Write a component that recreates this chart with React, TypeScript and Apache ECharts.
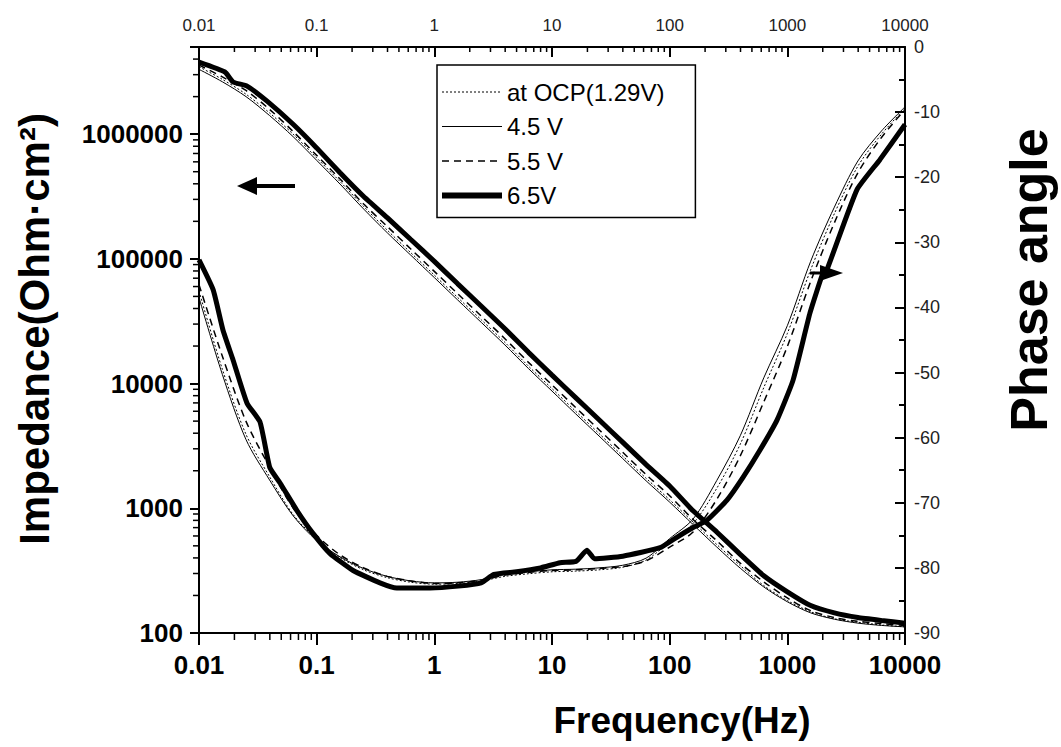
import React, { useEffect, useRef } from 'react';
import * as echarts from 'echarts';

const FONT = '"Liberation Sans", Arial, Helvetica, sans-serif';

const seriesNames = ['at OCP(1.29V)', '4.5 V', '5.5 V', '6.5V'];
const xTickLabels = ['0.01', '0.1', '1', '10', '100', '1000', '10000'];
const yTickLabels = ['100', '1000', '10000', '100000', '1000000'];

// Frequency grid (Hz) shared by the thin curves
const freqGrid = [0.01, 0.0158, 0.0251, 0.0398, 0.0631, 0.1, 0.158, 0.251, 0.398, 0.631, 1, 1.58, 2.51, 3.98, 6.31, 10, 15.8, 25.1, 39.8, 63.1, 100, 158, 251, 398, 631, 1000, 1580, 2510, 3980, 6310, 10000];

// Impedance |Z| (Ohm·cm2)
const zOCP = [3.47e6, 2.75e6, 2.09e6, 1.48e6, 1.0e6, 6.46e5, 4.17e5, 2.63e5, 1.7e5, 1.12e5, 74100, 49000, 32400, 21400, 13800, 9120, 6030, 3980, 2630, 1740, 1170, 776, 513, 347, 240, 182, 148, 130, 122, 116, 112];
const z45 = [3.31e6, 2.63e6, 2.0e6, 1.41e6, 9.55e5, 6.17e5, 3.98e5, 2.51e5, 1.62e5, 1.07e5, 70800, 46800, 30900, 20400, 13200, 8710, 5750, 3800, 2510, 1660, 1120, 741, 490, 331, 234, 178, 145, 129, 120, 115, 112];
const z55 = [3.58e6, 2.88e6, 2.24e6, 1.58e6, 1.05e6, 6.76e5, 4.37e5, 2.75e5, 1.82e5, 1.2e5, 79400, 52500, 34700, 22900, 14800, 9770, 6460, 4270, 2820, 1860, 1260, 813, 550, 363, 257, 191, 151, 133, 124, 119, 115];
const freqZ65 = [0.01, 0.0166, 0.0195, 0.0256, 0.0379, 0.0631, 0.1, 0.158, 0.251, 0.398, 0.631, 1, 1.58, 2.51, 3.98, 6.31, 10, 15.8, 25.1, 39.8, 63.1, 100, 158, 251, 398, 631, 1000, 1580, 2510, 3980, 6310, 10000];
const z65 = [3.78e6, 3.15e6, 2.62e6, 2.43e6, 1.84e6, 1.2e6, 7.76e5, 4.9e5, 3.16e5, 2.14e5, 1.43e5, 95500, 63100, 41700, 27500, 17800, 11700, 7760, 5130, 3390, 2240, 1510, 955, 646, 427, 288, 214, 166, 145, 133, 126, 120];

// Phase angle (degrees)
const phOCP = [-37.5, -49.5, -59.5, -66.0, -71.8, -75.6, -78.4, -80.3, -81.5, -82.2, -82.5, -82.4, -82.0, -81.3, -80.9, -80.6, -80.5, -80.3, -79.9, -78.8, -76.0, -73.2, -67.8, -61.0, -52.3, -44.0, -34.2, -25.6, -18.3, -13.4, -9.4];
const ph45 = [-38.5, -50.3, -60.3, -66.5, -72.0, -75.8, -78.3, -80.1, -81.3, -82.0, -82.3, -82.2, -81.8, -81.0, -80.6, -80.3, -80.2, -80.0, -79.6, -78.5, -75.5, -72.5, -66.6, -59.7, -50.8, -42.8, -32.9, -24.6, -17.5, -12.9, -9.2];
const ph55 = [-36.5, -47.5, -57.5, -64.5, -70.8, -75.0, -78.0, -80.0, -81.3, -82.0, -82.4, -82.3, -81.9, -81.1, -80.7, -80.4, -80.3, -80.1, -79.8, -78.9, -76.8, -74.5, -69.5, -62.8, -54.5, -46.0, -36.0, -27.0, -19.3, -13.9, -9.6];
const freqPh65 = [0.01, 0.0132, 0.016, 0.0195, 0.0256, 0.033, 0.04, 0.049, 0.068, 0.093, 0.13, 0.204, 0.345, 0.48, 0.92, 1.6, 2.5, 3.2, 5, 8, 11.7, 16, 19.8, 23, 40, 83, 115, 158, 207, 307, 420, 586, 817, 1117, 1560, 2010, 2150, 3910, 6120, 10000];
const ph65 = [-32.7, -37.3, -43.5, -48.1, -54.7, -57.6, -64.6, -67.0, -71.2, -74.7, -77.8, -80.4, -82.3, -83.1, -83.1, -82.8, -82.3, -81.0, -80.6, -80.0, -79.2, -79.0, -77.3, -78.6, -78.2, -76.9, -75.3, -73.8, -72.7, -69.6, -66.1, -61.9, -57.3, -51.2, -40.8, -34.7, -34.4, -21.9, -17.3, -11.9];

const styles = [
  { width: 1, type: [2, 2] as any, smooth: 0.3 },
  { width: 1, type: 'solid', smooth: 0.3 },
  { width: 1.5, type: [7, 5] as any, smooth: 0.3 },
  { width: 5, type: 'solid', smooth: 0.15 },
];

const pair = (xs: number[], ys: number[]) => xs.map((x, i) => [x, ys[i]]);

function decadeLabel(v: number, labels: string[], firstExp: number) {
  const lg = Math.log10(v);
  const e = Math.round(lg);
  if (Math.abs(lg - e) > 1e-6) return '';
  return labels[e - firstExp] ?? '';
}

export default function App() {
  const ref = useRef<HTMLDivElement>(null);
  useEffect(() => {
    if (!ref.current) return;
    const chart = echarts.init(ref.current, null, { renderer: 'svg' });

    const minorX: number[][] = [];
    for (let d = -2; d < 4; d++) for (let m = 2; m <= 9; m++) minorX.push([m * Math.pow(10, d), 1000]);
    const minorY: number[][] = [];
    for (let d = 2; d <= 6; d++) for (let m = 2; m <= 9; m++) {
      const v = m * Math.pow(10, d);
      if (v <= 5e6) minorY.push([1, v]);
    }

    const zSets = [pair(freqGrid, zOCP), pair(freqGrid, z45), pair(freqGrid, z55), pair(freqZ65, z65)];
    const pSets = [pair(freqGrid, phOCP), pair(freqGrid, ph45), pair(freqGrid, ph55), pair(freqPh65, ph65)];

    const lineSeries: any[] = [];
    seriesNames.forEach((name, i) => {
      lineSeries.push({
        name, type: 'line', xAxisIndex: 0, yAxisIndex: 0, data: zSets[i],
        symbol: 'none', showSymbol: false, smooth: styles[i].smooth,
        lineStyle: { color: '#000', width: styles[i].width, type: styles[i].type },
        itemStyle: { color: '#000' }, z: 2 + i,
      });
    });
    seriesNames.forEach((name, i) => {
      lineSeries.push({
        name, type: 'line', xAxisIndex: 0, yAxisIndex: 1, data: pSets[i],
        symbol: 'none', showSymbol: false, smooth: styles[i].smooth,
        lineStyle: { color: '#000', width: styles[i].width, type: styles[i].type },
        itemStyle: { color: '#000' }, z: 2 + i,
      });
    });

    const option: any = {
      animation: false,
      backgroundColor: '#fff',
      grid: { left: 199, right: 156, top: 47, height: 586, containLabel: false },
      legend: {
        orient: 'vertical', left: 437, top: 65,
        data: seriesNames.map((name, i) => ({
          name,
          lineStyle: { color: '#000', width: styles[i].width === 5 ? 6 : styles[i].width, type: styles[i].type },
        })),
        itemWidth: 60, itemHeight: 24, itemGap: 10.5,
        padding: [15, 31, 10, 2],
        borderColor: '#000', borderWidth: 1.5,
        itemStyle: { opacity: 0 },
        textStyle: { fontSize: 24, fontFamily: FONT, color: '#000' },
        selectedMode: false,
      },
      xAxis: [
        {
          type: 'log', logBase: 10, min: 0.01, max: 10000, position: 'bottom',
          axisLine: { onZero: false, lineStyle: { color: '#000', width: 2 } },
          axisTick: { inside: false, length: 12, lineStyle: { color: '#000', width: 2 } },
          axisLabel: {
            margin: 19, fontSize: 26, fontWeight: 'bold', fontFamily: FONT, color: '#000',
            formatter: (v: number) => decadeLabel(v, xTickLabels, -2),
          },
          splitLine: { show: false },
        },
        {
          type: 'log', logBase: 10, min: 0.01, max: 10000, position: 'top',
          axisLine: { onZero: false, lineStyle: { color: '#000', width: 2 } },
          axisTick: { inside: true, length: 10, lineStyle: { color: '#000', width: 2 } },
          axisLabel: {
            margin: 13, fontSize: 17, fontFamily: FONT, color: '#222',
            formatter: (v: number) => decadeLabel(v, xTickLabels, -2),
          },
          splitLine: { show: false },
        },
      ],
      yAxis: [
        {
          type: 'log', logBase: 10, min: 100, max: 5e6, position: 'left',
          axisLine: { onZero: false, lineStyle: { color: '#000', width: 2 } },
          axisTick: { inside: false, length: 9, lineStyle: { color: '#000', width: 2 } },
          axisLabel: {
            margin: 16, fontSize: 26, fontWeight: 'bold', fontFamily: FONT, color: '#000',
            formatter: (v: number) => decadeLabel(v, yTickLabels, 2),
          },
          splitLine: { show: false },
        },
        {
          type: 'value', min: -90, max: 0, interval: 10, position: 'right',
          axisLine: { onZero: false, lineStyle: { color: '#000', width: 2 } },
          axisTick: { inside: true, length: 10, lineStyle: { color: '#000', width: 2 } },
          minorTick: { show: true, splitNumber: 2, length: 6, lineStyle: { color: '#000', width: 2 } },
          axisLabel: { margin: 9, fontSize: 18, fontFamily: FONT, color: '#222' },
          splitLine: { show: false },
          minorSplitLine: { show: false },
        },
      ],
      series: [
        ...lineSeries,
        {
          type: 'custom', xAxisIndex: 0, yAxisIndex: 0, silent: true, clip: false, z: 10,
          data: minorX,
          renderItem: (params: any, api: any) => {
            const pt = api.coord([api.value(0), 1000]);
            const cs = params.coordSys;
            const x = pt[0];
            const top = cs.y;
            const bottom = cs.y + cs.height;
            return {
              type: 'group',
              children: [
                { type: 'line', shape: { x1: x, y1: bottom, x2: x, y2: bottom + 7 }, style: { stroke: '#000', lineWidth: 1.5 } },
                { type: 'line', shape: { x1: x, y1: top, x2: x, y2: top + 5 }, style: { stroke: '#000', lineWidth: 1.5 } },
              ],
            };
          },
        },
        {
          type: 'custom', xAxisIndex: 0, yAxisIndex: 0, silent: true, clip: false, z: 10,
          data: minorY,
          renderItem: (params: any, api: any) => {
            const pt = api.coord([1, api.value(1)]);
            const cs = params.coordSys;
            const y = pt[1];
            return { type: 'line', shape: { x1: cs.x - 6, y1: y, x2: cs.x, y2: y }, style: { stroke: '#000', lineWidth: 1.5 } };
          },
        },
      ],
      graphic: [
        {
          type: 'text', x: 34, y: 329, rotation: Math.PI / 2,
          style: { text: 'Impedance(Ohm·cm²)', font: `bold 42px ${FONT}`, fill: '#000', textAlign: 'center', textVerticalAlign: 'middle' },
        },
        {
          type: 'text', x: 1029, y: 280, rotation: Math.PI / 2,
          style: { text: 'Phase angle', font: `bold 52px ${FONT}`, fill: '#000', textAlign: 'center', textVerticalAlign: 'middle' },
        },
        {
          type: 'text', x: 682, y: 720,
          style: { text: 'Frequency(Hz)', font: `bold 37px ${FONT}`, fill: '#000', textAlign: 'center', textVerticalAlign: 'middle' },
        },
        { type: 'polygon', shape: { points: [[237, 186], [257, 177], [257, 195]] }, style: { fill: '#000' } },
        { type: 'rect', shape: { x: 255, y: 184, width: 40, height: 4 }, style: { fill: '#000' } },
        { type: 'polygon', shape: { points: [[843, 273], [820, 265], [820, 281]] }, style: { fill: '#000' } },
        { type: 'line', shape: { x1: 810, y1: 273, x2: 822, y2: 273 }, style: { stroke: '#000', lineWidth: 3 } },
      ],
    };
    chart.setOption(option);
    return () => chart.dispose();
  }, []);
  return <div ref={ref} style={{ position: 'absolute', left: 0, top: 0, width: 1061, height: 747 }} />;
}
